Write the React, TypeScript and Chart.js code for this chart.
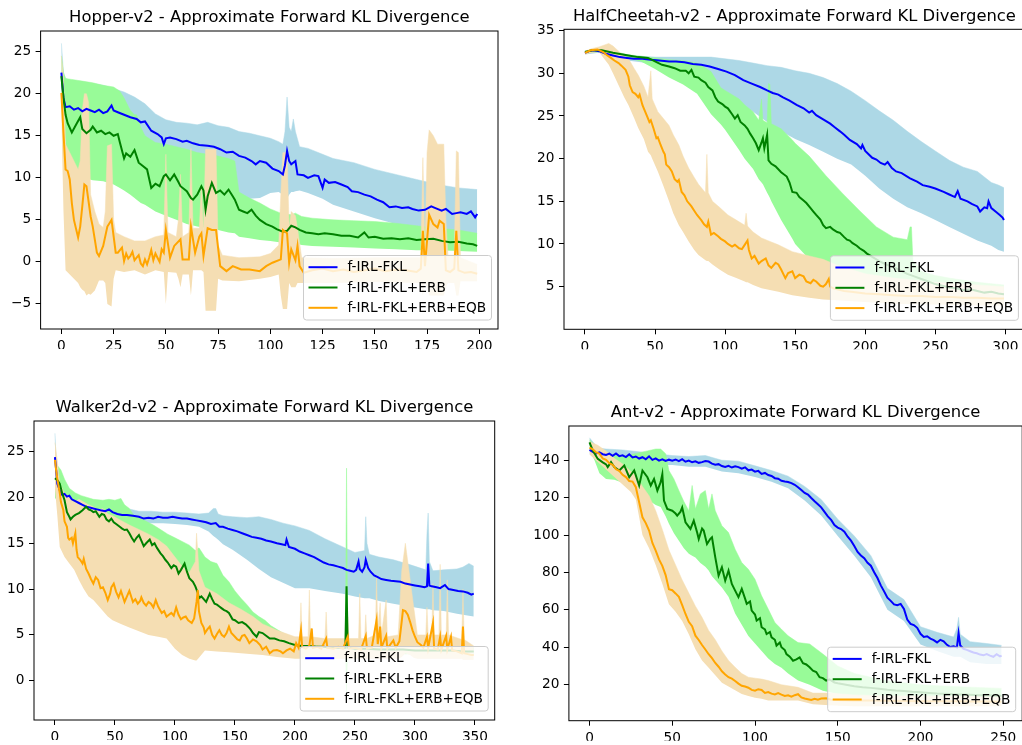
import React, { useEffect, useRef } from 'react';
import { Chart, registerables } from 'chart.js';

Chart.register(...registerables);

const FONT = "'DejaVu Sans', 'Liberation Sans', sans-serif";
const LABELS = ['f-IRL-FKL', 'f-IRL-FKL+ERB', 'f-IRL-FKL+ERB+EQB'];
const LINE_COLORS = ['#0000ff', '#008000', '#ffa500'];
const BAND_COLORS = ['#add8e6', '#98fb98', '#f5deb3'];

// ---------------- Hopper-v2 ----------------
const HOP_X_TICKS = [0, 25, 50, 75, 100, 125, 150, 175, 200];
const HOP_Y_TICKS = [-5, 0, 5, 10, 15, 20, 25];
const HOP_FKL = [[0,22.5],[1,19.5],[2,18.4],[4,18.5],[6,18.1],[8,18.3],[10,17.9],[12,18.2],[14,18.0],[16,17.8],[18,18.1],[20,17.7],[22,17.9],[24,18.6],[25,18.0],[27,17.8],[30,17.5],[33,17.2],[36,17.0],[38,16.6],[40,16.7],[43,15.6],[46,15.2],[48,14.8],[49,14.0],[50,14.7],[52,14.8],[55,14.6],[58,14.3],[60,14.4],[63,14.1],[66,13.9],[70,13.8],[73,13.7],[76,13.4],[79,13.0],[82,13.1],[85,12.6],[88,12.4],[91,12.0],[93,11.6],[95,12.0],[98,11.8],[101,11.1],[104,10.8],[106,10.4],[107,11.5],[108,13.2],[109,12.0],[110,11.6],[112,12.0],[113,10.4],[116,10.3],[118,10.0],[121,10.3],[123,10.2],[125,8.8],[126,9.8],[128,9.4],[131,9.5],[134,9.2],[137,8.9],[139,8.4],[142,8.3],[145,8.0],[148,7.8],[151,7.4],[154,7.1],[157,6.5],[160,6.6],[163,6.4],[166,6.5],[168,6.3],[171,6.1],[174,6.2],[177,6.6],[179,6.4],[182,6.1],[184,6.3],[187,5.7],[189,5.8],[191,5.9],[194,5.7],[196,6.0],[198,5.3],[199,5.7]];
const HOP_FKL_BAND = [[0,19,26],[1,16,22.5],[2,15,21.8],[5,15,21.5],[10,15,21.4],[15,15,21.2],[20,14.5,21.0],[25,14.5,20.6],[30,14,20.2],[35,13.5,19.6],[40,13,18.8],[45,11,17.6],[50,10,16.9],[55,9.5,16.6],[60,9,16.5],[65,8.5,16.3],[70,8,16.6],[75,7.5,16.2],[80,7.5,16.0],[85,7.4,15.5],[90,7.5,15.3],[95,7.6,15.0],[100,8.2,14.7],[104,8.3,14.3],[106,8.0,14.0],[107,7.5,15.5],[108,7.5,19.6],[109,8.0,16.0],[110,8.3,15.5],[111,8.3,17.0],[112,8.4,15.5],[114,8.5,13.7],[118,8.2,13.5],[125,7.5,12.8],[130,6.8,12.3],[140,6.0,11.8],[150,5.2,11.0],[160,4.5,10.4],[170,4.0,9.8],[180,3.6,9.2],[190,3.3,8.8],[199,3.0,8.6]];
const HOP_ERB = [[0,22.1],[1,19.5],[2,17.5],[3,16.5],[5,15.4],[7,16.3],[9,17.2],[10,15.8],[12,15.3],[14,15.7],[15,16.1],[17,15.4],[19,15.6],[21,15.2],[23,15.4],[25,15.0],[27,15.2],[28,14.2],[30,12.3],[31,12.9],[33,12.5],[35,13.3],[37,11.8],[39,11.4],[41,11.0],[43,8.8],[45,9.3],[47,9.0],[49,10.2],[50,10.4],[52,9.7],[54,10.4],[56,9.5],[57,9.0],[60,8.4],[62,7.6],[63,7.4],[65,8.0],[67,9.0],[68,8.5],[69,6.2],[70,7.8],[72,9.4],[74,8.2],[76,8.5],[78,8.0],[80,8.6],[82,7.8],[83,7.4],[85,6.2],[87,6.0],[89,5.8],[91,6.2],[93,5.5],[95,5.0],[98,4.5],[101,4.2],[103,3.9],[106,3.6],[108,3.7],[110,4.3],[112,4.1],[114,3.8],[117,3.5],[120,3.4],[123,3.3],[126,3.4],[130,3.3],[134,3.1],[138,3.1],[142,2.9],[145,3.5],[147,2.9],[150,3.0],[154,2.75],[158,2.8],[162,2.7],[166,2.8],[170,2.6],[174,2.7],[178,2.75],[182,2.5],[186,2.35],[190,2.4],[194,2.2],[197,2.1],[199,1.9]];
const HOP_ERB_BAND = [[0,19,24.5],[1,17,22.5],[2,14,21.8],[5,11,21.7],[10,10,21.5],[15,9.7,21.3],[20,9.6,21.0],[25,9.2,20.8],[28,8.8,20.3],[30,8.5,19.5],[33,8.0,18.0],[35,7.6,17.5],[36,7.4,17.5],[38,7.0,16.0],[40,6.8,15.0],[45,6.0,14.2],[50,5.5,14.0],[55,5.0,13.7],[60,4.5,13.4],[65,4.2,13.0],[70,4.0,12.8],[75,3.8,12.6],[80,3.5,12.3],[83,3.4,12.0],[85,3.0,8.3],[90,2.8,7.6],[95,2.6,7.0],[100,2.5,6.3],[105,2.3,5.8],[110,2.2,5.6],[112,2.2,5.8],[115,2.0,5.4],[120,1.9,5.2],[130,1.8,5.0],[140,1.7,4.9],[150,1.6,4.8],[160,1.5,4.6],[170,1.4,4.3],[180,1.4,4.0],[190,1.3,3.8],[199,1.2,3.4]];
const HOP_EQB = [[0,20.1],[1,15.3],[2,11.0],[3,10.8],[4,9.8],[5,7.0],[6,5.0],[8,2.9],[9,4.2],[10,6.6],[11,9.2],[12,9.0],[14,5.4],[15,4.2],[17,1.1],[18,0.7],[20,1.9],[22,4.2],[23,4.6],[24,5.0],[26,1.1],[27,1.1],[29,1.7],[30,0.1],[31,1.0],[32,0.4],[33,0.7],[34,1.2],[35,0.2],[36,0.5],[37,0.8],[38,-0.2],[39,-0.5],[40,0.3],[41,-0.3],[42,0.5],[43,1.4],[44,0.2],[45,1.0],[46,0.5],[47,0.0],[48,1.5],[49,1.1],[50,3.8],[52,0.5],[54,1.9],[57,2.7],[58,0.3],[61,0.3],[62,4.2],[64,1.1],[66,3.0],[67,3.4],[68,0.7],[70,4.0],[72,3.8],[74,3.8],[76,-0.5],[79,-1.1],[82,-0.5],[86,-0.9],[90,-0.9],[95,-1.1],[98,-0.5],[101,-0.1],[105,0.3],[106,3.8],[108,3.4],[109,-0.1],[110,1.5],[112,0.2],[113,1.9],[114,-0.5],[116,-1.3],[120,-1.0],[125,-0.8],[130,-1.1],[135,-0.9],[140,-1.2],[145,-1.0],[150,-0.8],[155,-1.1],[160,-0.9],[165,-1.0],[170,-1.2],[172,-0.8],[173,3.7],[174,-0.5],[176,5.6],[178,4.5],[180,4.1],[181,4.9],[183,4.5],[184,-1.0],[186,-1.2],[188,-0.8],[189,3.7],[190,-1.0],[193,-1.3],[196,-1.2],[199,-1.4]];
const HOP_EQB_BAND = [[0,17,24.5],[1,6,22],[2,-1,14],[4,-1.5,13],[6,-2,12],[8,-2.5,11],[9,-3,12],[10,-3.3,18],[11,-3.5,20],[12,-4,20],[13,-3.8,19],[14,-3.9,8],[16,-3.4,6],[18,-2.2,4.5],[20,-2.2,4.1],[21,-2.5,6],[22,-5,13.8],[24,-5.3,14],[25,-2,5],[26,-1,3.5],[30,-1.2,3],[35,-1,2.5],[40,-1.5,2.5],[45,-1,3],[49,-1.2,3.2],[50,-5,12.8],[51,-1.2,3.5],[55,-1.3,3],[56,-2,5],[57,-3,10.4],[58,-1.5,3],[61,-1.5,3.5],[62,-4,13.5],[63,-1,4],[66,-1,4],[67,-1,9],[68,-1.2,3.5],[69,-5.8,13.4],[74,-5.8,13.4],[75,-2,2],[77,-2.2,0.8],[85,-2.3,0.5],[95,-2,0.6],[100,-1.8,1],[104,-1.5,2],[105,-4,8],[106,-5.6,13],[108,-5.6,13],[109,-2.5,4],[110,-3,6],[112,-3,5.5],[113,-2.5,4],[115,-2.5,0.5],[130,-2.5,0.4],[150,-2.4,0.5],[172,-2.5,0.5],[173,-4,12.4],[174,-2.5,1],[175,-3,13],[176,-4,15.7],[178,-4,15],[180,-4,14],[183,-4,14],[184,-3,5],[185,-2.5,0.8],[188,-2.5,0.8],[189,-4,13.2],[190,-4,13],[191,-2.3,0.5],[199,-2.3,-0.3]];

// ---------------- HalfCheetah-v2 ----------------
const HC_X_TICKS = [0, 50, 100, 150, 200, 250, 300];
const HC_Y_TICKS = [5, 10, 15, 20, 25, 30, 35];
const HC_FKL = [[0,32.4],[3,32.6],[6,32.7],[10,32.6],[15,32.3],[20,32.1],[25,31.9],[30,31.8],[35,31.7],[41,31.7],[47,31.6],[53,31.5],[60,31.4],[65,31.4],[71,31.3],[77,31.1],[83,31.0],[89,30.8],[95,30.5],[101,30.2],[107,29.8],[113,29.2],[119,28.8],[125,28.4],[130,28.0],[134,27.7],[138,27.5],[141,27.2],[146,26.8],[151,26.3],[156,25.9],[160,25.4],[162,25.6],[165,25.1],[170,24.6],[175,24.1],[178,23.7],[182,23.2],[185,22.8],[189,22.2],[194,21.7],[197,21.2],[198,21.6],[200,20.9],[205,20.1],[208,19.9],[211,19.5],[214,19.3],[216,19.6],[219,18.9],[222,18.5],[226,18.3],[232,17.7],[237,17.3],[241,16.9],[246,16.7],[250,16.5],[256,16.1],[260,15.8],[264,15.5],[266,16.2],[268,15.3],[273,15.0],[276,14.7],[280,14.4],[282,13.8],[285,14.3],[287,14.2],[288,15.0],[290,14.2],[293,13.8],[296,13.4],[298,13.1],[299,12.8]];
const HC_FKL_BAND = [[0,32.2,32.6],[10,32.4,32.8],[20,31.9,32.4],[30,31.5,32.1],[40,31.3,32.0],[50,31.0,31.9],[60,30.7,31.9],[70,30.2,31.9],[80,29.5,31.9],[90,28.5,31.9],[100,27.5,31.7],[110,26.5,31.5],[120,25.5,31.2],[130,24.3,30.9],[140,23.2,30.7],[150,22.3,30.3],[160,21.6,30.0],[170,20.8,29.5],[180,20.0,28.8],[190,19.3,27.9],[200,18.0,26.8],[210,16.5,25.6],[220,15.3,24.5],[230,14.3,23.2],[240,13.6,22.0],[250,12.8,20.9],[260,12.0,19.8],[270,11.2,19.0],[280,10.4,18.5],[290,9.8,17.2],[295,9.3,16.9],[299,9.1,16.6]];
const HC_ERB = [[0,32.5],[5,32.7],[12,32.7],[20,32.4],[31,32.1],[38,31.9],[45,31.8],[50,31.4],[55,31.0],[60,30.8],[64,30.6],[68,30.3],[72,30.3],[74,30.0],[76,30.4],[78,29.6],[81,29.5],[83,29.2],[86,28.9],[88,28.4],[91,28.0],[93,27.2],[95,26.7],[98,26.4],[100,26.1],[102,25.9],[105,25.2],[107,24.7],[109,25.1],[111,24.3],[114,23.9],[116,23.5],[118,22.9],[120,22.4],[122,21.8],[124,21.0],[126,21.9],[127,22.4],[128,21.2],[130,22.8],[131,19.8],[133,19.4],[136,19.1],[140,18.4],[144,17.9],[146,17.2],[148,16.1],[151,16.0],[153,15.5],[156,15.1],[158,14.8],[161,14.2],[163,13.8],[165,13.4],[168,12.85],[170,12.2],[172,11.85],[175,12.0],[177,11.7],[180,11.4],[182,11.3],[185,10.8],[187,10.5],[189,10.4],[191,10.1],[194,9.8],[196,9.5],[199,9.2],[201,8.9],[205,8.5],[210,8.0],[215,7.6],[220,7.3],[225,6.9],[230,6.5],[235,6.2],[240,5.9],[245,5.6],[250,5.3],[255,5.1],[260,4.9],[265,4.8],[270,4.6],[275,4.7],[280,4.5],[285,4.3],[290,4.4],[295,4.2],[299,4.1]];
const HC_ERB_BAND = [[0,32.3,32.6],[10,32.5,32.8],[20,32.2,32.6],[30,31.8,32.2],[40,31.4,32.0],[50,30.5,31.8],[60,29.5,31.6],[70,28.7,31.5],[80,27.6,31.2],[90,25.2,30.2],[97,24.0,28.3],[100,23.4,28.0],[110,21.0,27.0],[114,20.0,26.3],[120,18.8,25.5],[124,17.6,24.5],[126,17.2,27.0],[127,17.0,24.5],[130,16.0,24.2],[131,15.7,28.8],[132,15.4,28.7],[133,15.0,24.1],[140,12.8,23.5],[148,10.6,22.2],[150,10.0,21.8],[160,8.2,20.3],[172,7.1,18.0],[184,6.4,15.9],[196,5.8,13.9],[208,5.2,12.0],[220,4.5,10.8],[230,4.1,10.5],[232,4.0,12.0],[233,4.0,12.0],[234,4.0,8.0],[240,3.8,6.8],[250,3.5,6.3],[260,3.4,6.0],[280,3.3,5.5],[299,3.3,5.2]];
const HC_EQB = [[0,32.4],[4,32.7],[9,32.8],[13,32.5],[16,32.1],[19,31.75],[21,31.5],[24,31.2],[26,30.9],[29,30.4],[31,29.6],[32,28.6],[34,27.8],[36,27.6],[38,27.2],[39,27.5],[41,26.3],[42,25.9],[44,25.1],[46,24.3],[47,24.5],[49,23.5],[51,22.4],[52,22.5],[54,21.6],[56,20.8],[57,20.5],[58,19.3],[60,19.0],[62,18.5],[64,17.6],[66,17.3],[67,17.5],[69,16.1],[71,15.7],[73,15.0],[75,14.6],[76,14.4],[78,13.9],[80,13.4],[82,13.0],[83,12.8],[85,12.3],[87,12.0],[88,12.6],[90,11.1],[92,11.3],[95,10.9],[97,10.6],[100,10.3],[102,10.0],[105,9.7],[107,9.9],[110,9.5],[112,9.4],[114,9.9],[116,10.4],[117,9.3],[119,8.3],[121,8.6],[124,7.7],[126,8.0],[129,8.3],[131,7.5],[133,7.2],[136,7.8],[138,7.6],[140,7.0],[143,6.0],[145,6.6],[148,6.8],[150,6.0],[153,6.4],[156,6.2],[158,5.6],[161,5.4],[163,5.8],[165,5.6],[168,5.1],[170,5.0],[172,5.3],[174,5.9],[175,5.0],[177,4.8],[180,4.7],[185,4.5],[190,4.4],[200,4.2],[210,4.1],[220,4.0],[230,3.9],[240,3.9],[250,3.8],[260,3.8],[270,3.7],[280,3.7],[290,3.6],[299,3.6]];
const HC_EQB_BAND = [[0,32.2,32.6],[5,32.4,32.9],[10,32.5,33.1],[17,31.0,33.5],[20,30.0,33.2],[24,28.6,32.6],[28,27.2,32.0],[31,26.3,31.75],[35,24.8,30.6],[38,23.6,29.8],[42,22.3,28.5],[45,20.8,27.2],[47,20.4,30.3],[48,20.0,27.0],[52,18.5,25.5],[56,16.8,24.7],[60,15.0,23.9],[63,13.6,22.8],[67,12.2,21.6],[70,11.4,20.3],[74,10.3,18.9],[78,9.3,17.8],[81,8.7,17.0],[86,8.1,16.0],[87,8.0,20.5],[88,8.0,16.0],[91,7.6,15.0],[96,7.0,14.3],[102,6.4,13.4],[108,6.0,12.8],[114,5.6,12.2],[115,5.5,13.6],[116,5.5,12.1],[120,5.2,11.4],[126,4.8,10.7],[132,4.6,10.3],[138,4.4,9.9],[148,4.0,9.1],[160,3.7,8.6],[170,3.5,8.2],[180,3.4,7.5],[200,3.2,6.5],[220,3.0,6.0],[250,2.9,5.5],[280,2.8,5.2],[299,2.8,5.0]];

// ---------------- Walker2d-v2 ----------------
const WK_X_TICKS = [0, 50, 100, 150, 200, 250, 300, 350];
const WK_Y_TICKS = [0, 5, 10, 15, 20, 25];
const WK_FKL = [[0,24.4],[1,23.0],[2,21.5],[4,20.8],[6,20.3],[8,20.4],[10,20.1],[12,20.2],[14,19.8],[17,19.6],[20,19.4],[23,19.2],[26,19.0],[29,18.9],[32,18.8],[35,18.7],[38,18.6],[42,18.5],[45,18.7],[48,18.4],[52,18.2],[56,18.1],[60,18.1],[65,18.0],[70,17.9],[74,17.7],[78,17.8],[82,17.7],[86,17.9],[90,17.8],[94,17.8],[98,17.9],[102,17.8],[106,17.7],[110,17.7],[114,17.6],[118,17.5],[122,17.4],[126,17.3],[130,17.1],[134,17.2],[137,16.8],[140,16.8],[144,16.6],[148,16.45],[152,16.3],[156,16.1],[160,15.9],[164,15.7],[168,15.6],[172,15.5],[176,15.3],[180,15.2],[185,15.0],[189,14.9],[192,14.8],[193,15.4],[195,14.6],[200,14.4],[204,14.1],[208,13.9],[212,13.7],[216,13.5],[220,13.2],[224,12.9],[228,12.7],[232,12.6],[236,12.45],[240,12.3],[243,12.1],[246,12.0],[249,11.9],[251,12.1],[253,13.0],[254,12.2],[256,11.9],[258,12.4],[259,13.2],[261,12.3],[263,11.9],[266,11.5],[269,11.3],[272,11.1],[276,11.0],[280,10.9],[284,10.85],[288,10.8],[292,10.6],[296,10.5],[300,10.4],[304,10.3],[308,10.2],[310,10.3],[311,12.8],[312,10.4],[314,10.3],[318,10.2],[321,10.1],[325,10.45],[328,10.0],[332,9.9],[336,9.8],[340,9.75],[344,9.6],[347,9.4],[349,9.5]];
const WK_FKL_BAND = [[0,22,27],[1,21,24],[3,19.5,22],[6,19.3,21.3],[10,19.0,21],[15,18.7,20.4],[20,18.5,20.0],[30,18.1,19.6],[40,17.9,19.3],[50,17.6,19.0],[60,17.5,18.8],[70,17.3,18.5],[80,17.2,18.5],[90,17.2,18.4],[100,17.1,18.4],[110,17.0,18.3],[120,16.8,18.2],[128,16.3,18.3],[132,15.8,18.8],[134,15.6,18.8],[136,15.4,18.2],[140,14.9,18.0],[148,14.3,17.9],[160,13.2,17.8],[170,12.2,17.9],[180,11.3,17.6],[190,10.7,17.2],[200,10.1,16.9],[212,10.1,16.4],[225,9.8,15.5],[240,9.5,14.6],[250,9.2,14.0],[258,9.0,14.2],[259,9.0,17.9],[260,9.0,15.0],[262,9.0,13.8],[270,8.7,13.5],[282,8.4,13.2],[295,8.1,12.7],[309,7.8,12.1],[310,7.8,16],[311,7.8,18.3],[312,7.8,13],[315,7.7,12.0],[324,7.6,12.1],[335,7.3,12.2],[340,7.2,12.4],[345,7.1,12.8],[349,7.0,12.5]];
const WK_ERB = [[0,22.1],[2,21.9],[4,21.5],[6,20.5],[8,19.7],[10,18.4],[12,17.9],[13,17.6],[15,17.9],[17,18.1],[20,18.3],[23,18.6],[26,19.0],[28,18.7],[30,18.6],[32,18.4],[34,18.5],[37,17.9],[39,18.2],[41,18.1],[43,17.6],[45,17.4],[47,17.7],[49,17.3],[51,17.1],[54,16.8],[56,16.6],[58,16.45],[60,16.5],[62,16.1],[64,15.6],[66,15.2],[68,15.6],[70,15.9],[72,15.3],[74,14.7],[76,15.0],[79,15.4],[81,14.8],[83,15.0],[85,14.5],[88,13.9],[90,13.6],[92,13.2],[94,12.9],[97,12.3],[99,12.6],[101,12.45],[103,11.7],[105,12.1],[108,12.8],[110,11.9],[112,11.2],[115,10.8],[117,10.3],[119,9.6],[120,9.0],[122,9.2],[124,8.9],[126,8.6],[129,9.5],[131,8.9],[133,8.4],[135,8.3],[137,8.1],[139,7.9],[141,7.7],[143,7.6],[145,7.4],[148,6.7],[150,6.6],[153,6.3],[156,6.4],[159,6.15],[161,5.9],[163,5.6],[165,5.2],[168,4.8],[170,5.3],[173,5.2],[176,4.9],[179,4.6],[183,4.6],[187,4.4],[191,4.3],[195,4.1],[200,3.9],[206,3.8],[212,3.8],[218,3.7],[224,3.7],[230,3.6],[236,3.6],[242,3.6],[243,10.3],[244,3.6],[250,3.5],[260,3.5],[270,3.4],[280,3.4],[290,3.4],[300,3.3],[310,3.3],[320,3.3],[330,3.3],[340,3.2],[349,3.2]];
const WK_ERB_BAND = [[0,20,24],[2,19.5,23.5],[5,18,23],[8,16.5,22],[12,15.5,21],[17,15.7,20.5],[22,16,20.2],[27,16,20.0],[32,15.5,19.8],[40,15,19.7],[45,14.8,19.8],[50,14.5,19.7],[55,14,19.9],[58,13.5,19.2],[62,13,18.8],[66,12.5,18.0],[70,12,17.8],[76,11.5,17.4],[82,11,17.0],[88,10.3,16.5],[94,9.5,16.0],[100,9,15.6],[106,8.5,15.2],[112,7.8,14.8],[117,7.2,14.2],[120,7,14.5],[125,6.5,13.5],[130,6,13],[135,5.5,12.8],[140,5.2,11.5],[145,5,10.8],[150,4.8,9.8],[155,4.6,9],[160,4.4,8.3],[165,4.2,7.5],[170,4.0,7.0],[175,3.8,6.6],[180,3.6,6.0],[190,3.4,5.2],[200,3.2,4.6],[215,3.1,4.4],[230,3.0,4.2],[242,3.0,4.1],[243,-2.5,23.2],[244,3.0,4.1],[260,3.0,4.0],[280,2.9,3.9],[300,2.9,3.8],[320,2.8,3.7],[349,2.8,3.6]];
const WK_EQB = [[0,24.1],[1,23.0],[2,22.0],[4,20.5],[5,19.5],[7,18.6],[8,17.4],[10,16.8],[11,15.6],[12,15.4],[14,15.6],[15,15.0],[17,16.1],[18,14.3],[19,13.5],[21,13.2],[23,12.8],[24,13.3],[26,12.2],[28,11.7],[30,11.1],[32,10.6],[34,11.3],[36,11.0],[38,10.1],[40,10.2],[42,9.6],[44,8.8],[46,9.5],[47,10.2],[49,10.6],[51,9.7],[53,9.1],[55,9.8],[57,9.0],[58,8.6],[60,9.2],[62,9.8],[64,9.0],[65,8.6],[67,8.9],[69,8.4],[71,8.7],[72,9.1],[74,8.5],[76,8.2],[78,8.6],[80,8.4],[82,8.0],[84,8.8],[86,8.1],[89,7.4],[91,7.6],[93,7.0],[95,7.2],[97,7.4],[99,7.1],[101,8.0],[103,7.2],[105,6.7],[107,6.9],[109,7.0],[111,6.6],[114,6.3],[116,6.8],[118,8.6],[119,9.9],[120,7.6],[122,6.3],[124,5.8],[125,5.2],[127,5.6],[129,5.9],[131,5.0],[133,4.6],[135,5.1],[137,5.5],[139,5.0],[141,4.8],[143,5.2],[145,5.9],[147,5.2],[150,4.8],[152,4.5],[154,4.4],[156,4.9],[158,5.0],[160,4.6],[162,4.1],[165,4.5],[168,4.3],[171,3.9],[173,3.4],[176,3.7],[179,3.0],[182,3.3],[185,3.35],[188,3.2],[190,3.0],[193,3.3],[196,3.5],[199,3.2],[201,4.1],[203,3.6],[205,5.5],[206,3.7],[209,3.5],[212,3.8],[214,5.7],[215,3.6],[219,3.7],[222,3.5],[226,4.6],[227,3.6],[232,3.5],[236,3.7],[240,3.5],[244,4.8],[245,3.5],[250,3.6],[255,3.4],[259,4.9],[260,3.5],[264,3.6],[268,6.6],[269,4.0],[271,5.9],[272,3.6],[276,4.9],[277,3.5],[282,4.4],[284,3.6],[287,4.3],[289,6.5],[290,7.7],[292,7.6],[294,7.2],[296,6.4],[298,5.5],[300,4.8],[302,4.2],[305,3.9],[307,3.6],[310,4.8],[311,3.6],[315,6.3],[316,3.5],[319,3.4],[321,4.8],[322,3.4],[326,4.9],[327,3.4],[330,4.8],[331,3.3],[335,3.2],[339,3.0],[340,5.9],[341,3.0],[344,2.9],[347,2.8],[349,2.8]];
const WK_EQB_BAND = [[0,21,26],[2,18,24],[4,14.6,21.5],[8,13.5,20.5],[12,12.8,20],[16,12.1,19.5],[20,11,19.8],[24,10,19.5],[28,9.2,19.2],[32,8.8,19.0],[36,8.2,18.6],[40,7.6,18.8],[44,7.0,18.2],[48,6.6,18.0],[55,6.2,17.5],[62,5.8,17.0],[70,5.4,16.5],[78,5.0,16.0],[86,4.8,15.4],[93,4.6,14.7],[100,3.5,13.5],[106,2.8,12.5],[112,2.4,11.8],[117,2.2,13],[118,2.2,16.1],[120,2.5,12.0],[125,3.3,10.2],[135,3.2,9.5],[145,3.1,8.5],[155,3.0,7.8],[165,2.9,7.0],[173,2.8,6.2],[185,2.6,5.5],[200,2.4,4.8],[204,2.4,4.8],[205,2.4,8.5],[206,2.4,4.8],[211,2.4,4.8],[212,2.4,9.9],[213,2.4,4.8],[225,2.4,4.6],[226,2.4,7.5],[227,2.4,4.6],[243,2.4,4.6],[244,2.4,7.0],[245,2.4,4.6],[253,2.4,4.6],[254,2.4,9.5],[255,2.4,4.6],[258,2.4,4.6],[259,2.4,7.2],[260,2.4,4.6],[267,2.4,5],[268,2.4,11.4],[269,2.4,5.5],[271,2.4,8.5],[272,2.4,5],[276,2.4,8.8],[277,2.4,4.8],[286,2.4,5],[289,2.6,12],[292,3,15],[296,2.8,11],[299,2.5,8],[302,2.4,5],[309,2.4,5],[310,2.4,8],[311,2.4,5],[314,2.4,5],[315,2.4,10.6],[316,2.4,5],[320,2.4,5],[321,2.4,12.7],[322,2.4,5],[326,2.4,5],[327,2.4,11],[328,2.4,5],[339,2.4,4.5],[340,2.3,10],[341,2.3,4.5],[349,2.3,3.8]];

// ---------------- Ant-v2 ----------------
const ANT_X_TICKS = [0, 50, 100, 150, 200, 250];
const ANT_Y_TICKS = [20, 40, 60, 80, 100, 120, 140];
const ANT_FKL = [[0,145.5],[2,144.5],[4,143.6],[6,144.2],[8,143.2],[10,142.8],[12,143.5],[14,142.4],[16,143.6],[18,142.2],[20,142.6],[22,141.7],[24,143.2],[26,141.5],[28,142.0],[30,140.9],[32,141.6],[34,140.5],[36,142.1],[38,140.2],[40,141.0],[42,139.8],[44,140.5],[46,139.6],[48,140.3],[50,139.8],[52,140.4],[54,139.5],[56,140.6],[58,139.2],[60,139.8],[62,138.9],[64,139.4],[66,138.6],[68,139.0],[70,139.6],[72,139.3],[74,138.2],[76,137.6],[78,137.9],[80,136.9],[82,136.4],[84,137.0],[86,136.1],[88,136.8],[90,136.3],[92,135.5],[94,136.2],[96,134.6],[98,135.0],[100,133.9],[102,134.3],[104,132.7],[106,133.2],[108,132.1],[110,131.6],[112,130.4],[114,130.1],[116,129.0],[118,128.6],[120,128.4],[122,127.8],[124,126.9],[126,125.6],[128,124.1],[130,122.5],[132,121.6],[134,119.8],[136,118.1],[138,116.5],[140,114.8],[142,112.4],[144,110.0],[146,108.1],[148,105.3],[150,104.0],[152,103.2],[154,101.8],[156,99.1],[158,97.0],[160,94.2],[162,91.0],[164,89.1],[166,87.6],[168,85.2],[170,83.6],[172,80.1],[174,77.0],[176,73.1],[178,69.9],[180,66.5],[182,64.8],[184,62.9],[186,62.5],[188,63.2],[190,60.5],[192,54.8],[194,52.5],[196,51.9],[198,50.4],[200,47.2],[202,45.5],[204,45.9],[206,44.6],[208,43.8],[210,42.6],[212,44.0],[214,43.2],[216,41.3],[218,40.1],[220,40.5],[222,39.9],[223,47.5],[224,41.0],[226,39.2],[228,38.6],[230,37.9],[232,37.2],[234,36.8],[236,36.1],[238,35.7],[240,36.4],[242,35.5],[244,34.9],[246,36.3],[248,35.1],[249,35.6]];
const ANT_FKL_BAND = [[0,143,152],[5,141,146.5],[10,140.5,146],[20,139.5,145.5],[30,138.5,144.5],[40,137.5,143.5],[50,137.5,142.5],[60,136.5,142],[70,136.5,142.5],[80,134,140],[90,133,139.5],[100,131,137],[110,128.5,134.5],[120,125,131.5],[130,118.5,126],[140,110.5,119],[150,99.5,108.5],[160,89,99.5],[170,77.5,89],[180,60,71.5],[190,54,65.5],[200,41.5,51],[210,38,48],[220,35,45.5],[222,35,50],[223,35,56],[224,35,47],[230,32,43],[240,31,42],[249,31,41]];
const ANT_ERB = [[0,149.6],[2,145.2],[5,140.7],[8,138.9],[10,137.8],[11,136.3],[13,139.0],[15,136.3],[18,134.5],[21,137.2],[24,130.9],[27,134.5],[30,126.5],[32,134.5],[35,130.9],[37,126.5],[39,130],[41,123.8],[43,128.3],[44,132.5],[45,118.4],[47,114.0],[50,113.0],[52,111.5],[53,110.4],[55,112.5],[56,114.8],[58,106.8],[61,103.3],[63,107.7],[65,101.5],[66,97.9],[68,103.5],[69,102.4],[71,95.2],[73,98.0],[74,98.8],[76,88.1],[78,78.3],[80,82.8],[82,75.6],[84,81.0],[86,73.9],[88,70.3],[90,66.8],[92,71.2],[94,66.0],[95,63.2],[97,64.5],[98,59.6],[100,57.5],[101,54.3],[103,55.5],[104,50.7],[106,49.5],[107,47.1],[109,48.2],[110,45.3],[112,44.0],[113,40.9],[115,42.5],[116,40.0],[118,38.5],[119,36.4],[121,35.0],[123,32.8],[125,33.5],[127,34.6],[129,31.5],[131,30.8],[133,29.3],[135,27.5],[137,26.8],[139,24.0],[141,23.5],[143,22.2],[145,22.8],[148,21.2],[150,20.8],[155,20.0],[160,19.2],[165,18.6],[170,18.3],[175,17.8],[180,17.3],[185,16.9],[190,16.6],[195,16.2],[200,15.9],[205,15.6],[210,15.3],[215,15.1],[220,14.9],[225,14.8],[230,14.6],[235,14.4],[240,14.3],[245,14.2],[249,14.1]];
const ANT_ERB_BAND = [[0,146,151],[3,140,148],[6,133,145],[10,130,143],[15,129.5,142.5],[20,128,142],[25,125,143],[30,122,144],[35,119,145],[40,116,146],[43,115,146],[46,110,143.5],[48,106,134.5],[51,101,130],[54,97,123.8],[57,93,118],[60,90,113],[62,89,126.5],[64,88,114],[67,85,122],[70,83,123.8],[72,81,114],[74,78,122],[76,76,113],[80,72,105],[84,67,101.3],[88,58,92.4],[92,52,85.3],[96,46,81.7],[100,42,76.4],[104,38,67.5],[108,34,60.4],[112,31,53.2],[116,29,49.7],[120,26,46.1],[126,22.2,42.5],[133,20,41.8],[141,16.8,36.4],[150,15,30],[160,13.5,26],[170,12.5,24],[180,12,22],[200,11.5,20],[220,11,19],[249,10.5,18]];
const ANT_EQB = [[0,146.8],[2,145.8],[4,144.2],[6,143.5],[8,140.9],[10,140.2],[12,138.4],[14,137.6],[16,135.2],[18,134.3],[20,132.2],[22,131.0],[24,128.9],[26,128.6],[28,125.6],[30,117.5],[32,109.5],[34,106.4],[36,102.4],[38,95.8],[40,91.7],[42,87.0],[44,83.5],[46,78.6],[48,71.0],[50,70.5],[52,68.8],[54,67.0],[56,62.5],[58,57.8],[60,53.6],[62,51.3],[64,46.2],[66,43.9],[68,41.2],[70,38.8],[72,36.3],[74,34.2],[76,31.6],[78,29.6],[80,27.2],[82,25.5],[84,24.0],[86,23.2],[88,22.0],[90,20.6],[92,19.4],[94,19.0],[96,18.4],[98,17.2],[100,16.8],[102,17.6],[104,17.2],[106,15.6],[108,16.1],[110,15.2],[112,14.8],[114,15.5],[116,14.7],[118,14.0],[120,14.3],[122,13.6],[124,14.4],[126,14.9],[128,13.2],[130,12.6],[132,12.2],[134,11.8],[136,12.5],[138,12.0],[140,12.6],[143,12.7],[146,12.0],[150,11.8],[160,11.6],[170,11.5],[180,11.4],[190,11.3],[200,11.2],[210,11.1],[220,11.1],[230,11.0],[240,11.0],[249,10.9]];
const ANT_EQB_BAND = [[0,143,150],[5,139,148],[10,135,145],[15,131,141],[20,127,138],[25,123,134],[28,119,132],[32,100,126],[36,93,121],[40,84,113],[44,74,103],[48,63,92],[52,59,84],[56,54,76],[60,47,69],[64,39,62],[68,33,56],[72,29,49],[76,25,44],[80,21,38],[84,19,33],[88,17,29.3],[92,15,26],[96,14,24],[100,13,23.5],[104,12.5,23],[108,11.5,22.2],[116,11.5,20],[126,11.5,18.6],[135,9.5,15.5],[145,9,15.5],[160,8.5,14.5],[180,8.5,14],[200,8.5,14],[249,8.5,13.5]];

// Layout of the four panels (canvas box and plot area in page pixels)
const X_AXIS_H = 20;
const TITLE_SIZE = 16.4;
const TICK_SIZE = 13.7;
const LEGEND_SIZE = 13.7;
const TITLE_PAD_B = 3.0;
const TITLE_H = TITLE_SIZE * 1.2 + TITLE_PAD_B;

const PANELS: any[] = [
  { title: 'Hopper-v2 - Approximate Forward KL Divergence', box: [0, 0, 511, 372], area: [40.6, 31, 498, 329], yw: 30, xr: [-9.95, 208.95], yr: [-7.98, 27.46], xt: HOP_X_TICKS, yt: HOP_Y_TICKS, lines: [HOP_FKL, HOP_ERB, HOP_EQB], bands: [HOP_FKL_BAND, HOP_ERB_BAND, HOP_EQB_BAND] },
  { title: 'HalfCheetah-v2 - Approximate Forward KL Divergence', box: [511, 0, 560, 372], area: [564, 29.3, 1024.9, 329.3], yw: 34, xr: [-14.95, 313.95], yr: [0.0, 35.16], xt: HC_X_TICKS, yt: HC_Y_TICKS, lines: [HC_FKL, HC_ERB, HC_EQB], bands: [HC_FKL_BAND, HC_ERB_BAND, HC_EQB_BAND] },
  { title: 'Walker2d-v2 - Approximate Forward KL Divergence', box: [0, 372, 511, 373], area: [34, 421, 494.7, 720], yw: 30, xr: [-17.45, 366.45], yr: [-4.29, 28.35], xt: WK_X_TICKS, yt: WK_Y_TICKS, lines: [WK_FKL, WK_ERB, WK_EQB], bands: [WK_FKL_BAND, WK_ERB_BAND, WK_EQB_BAND] },
  { title: 'Ant-v2 - Approximate Forward KL Divergence', box: [511, 372, 560, 373], area: [568.9, 426, 1022.2, 720.7], yw: 44, xr: [-12.45, 261.45], yr: [0.75, 158.3], xt: ANT_X_TICKS, yt: ANT_Y_TICKS, lines: [ANT_FKL, ANT_ERB, ANT_EQB], bands: [ANT_FKL_BAND, ANT_ERB_BAND, ANT_EQB_BAND] },
];

const fmtTick = (v: any) => (Number(v) < 0 ? '\u2212' + Math.abs(Number(v)) : String(v));

const mplDecor = {
  id: 'mplDecor',
  afterDraw(chart: any) {
    const { ctx, chartArea: a } = chart;
    ctx.save();
    ctx.strokeStyle = '#000';
    ctx.lineWidth = 1;
    ctx.strokeRect(a.left, a.top, a.right - a.left, a.bottom - a.top);
    const W = 188, H = 64.5;
    const x0 = a.right - 6.5 - W;
    const y0 = a.bottom - 9 - H;
    ctx.beginPath();
    if (ctx.roundRect) ctx.roundRect(x0, y0, W, H, 3);
    else ctx.rect(x0, y0, W, H);
    ctx.fillStyle = 'rgba(255,255,255,0.8)';
    ctx.fill();
    ctx.strokeStyle = '#cccccc';
    ctx.lineWidth = 1;
    ctx.stroke();
    LABELS.forEach((lab, i) => {
      const cy = y0 + 11.7 + i * 20.3;
      ctx.beginPath();
      ctx.moveTo(x0 + 5, cy);
      ctx.lineTo(x0 + 34, cy);
      ctx.strokeStyle = LINE_COLORS[i];
      ctx.lineWidth = 2;
      ctx.stroke();
      ctx.fillStyle = '#000';
      ctx.font = `${LEGEND_SIZE}px ${FONT}`;
      ctx.textBaseline = 'middle';
      ctx.textAlign = 'left';
      ctx.fillText(lab, x0 + 44, cy + 0.5);
    });
    ctx.restore();
  },
};

function Panel({ cfg }: { cfg: any }) {
  const ref = useRef<HTMLCanvasElement>(null);
  const [bx, by, bw, bh] = cfg.box;
  useEffect(() => {
    const [al, at, ar, ab] = cfg.area;
    const datasets: any[] = [];
    cfg.bands.forEach((band: number[][], i: number) => {
      datasets.push({
        data: band.map((p) => ({ x: p[0], y: p[1] })),
        borderColor: 'rgba(0,0,0,0)', borderWidth: 0, pointRadius: 0, fill: false, order: 20 - 2 * i,
      });
      datasets.push({
        data: band.map((p) => ({ x: p[0], y: p[2] })),
        borderColor: BAND_COLORS[i], borderWidth: 0.5, backgroundColor: BAND_COLORS[i],
        pointRadius: 0, fill: '-1', order: 19 - 2 * i,
      });
    });
    cfg.lines.forEach((line: number[][], i: number) => {
      datasets.push({
        label: LABELS[i],
        data: line.map((p) => ({ x: p[0], y: p[1] })),
        borderColor: LINE_COLORS[i], borderWidth: 2, pointRadius: 0, fill: false, order: 3 - i,
      });
    });
    const axisCommon = {
      type: 'linear',
      grid: { display: true, drawOnChartArea: false, drawTicks: true, tickLength: 5, tickWidth: 1, tickColor: '#000', color: '#000' },
      border: { display: false },
    };
    const chart = new Chart(ref.current as HTMLCanvasElement, {
      type: 'line',
      data: { datasets },
      options: {
        responsive: false,
        animation: false,
        devicePixelRatio: 1,
        events: [],
        layout: {
          padding: {
            left: al - bx - cfg.yw,
            top: at - by - TITLE_H,
            right: bx + bw - ar,
            bottom: by + bh - ab - X_AXIS_H,
          },
        },
        elements: { line: { tension: 0 }, point: { radius: 0 } },
        plugins: {
          legend: { display: false },
          tooltip: { enabled: false },
          title: {
            display: true, text: cfg.title, fullSize: false, color: '#000',
            font: { family: FONT, size: TITLE_SIZE, weight: 'normal', lineHeight: 1.2 },
            padding: { top: 0, bottom: TITLE_PAD_B },
          },
        },
        scales: {
          x: {
            ...axisCommon,
            min: cfg.xr[0], max: cfg.xr[1],
            afterBuildTicks: (s: any) => { s.ticks = cfg.xt.map((v: number) => ({ value: v })); },
            afterFit: (s: any) => { s.height = X_AXIS_H; },
            ticks: { color: '#000', font: { family: FONT, size: TICK_SIZE }, padding: 4.5, maxRotation: 0, autoSkip: false, callback: fmtTick },
          },
          y: {
            ...axisCommon,
            min: cfg.yr[0], max: cfg.yr[1],
            afterBuildTicks: (s: any) => { s.ticks = cfg.yt.map((v: number) => ({ value: v })); },
            afterFit: (s: any) => { s.width = cfg.yw; },
            ticks: { color: '#000', font: { family: FONT, size: TICK_SIZE }, padding: 4.5, autoSkip: false, callback: fmtTick },
          },
        },
      } as any,
      plugins: [mplDecor],
    });
    return () => chart.destroy();
  }, []);
  return (
    <canvas
      ref={ref}
      width={bw}
      height={bh}
      style={{ position: 'absolute', left: bx, top: by, width: bw, height: bh, display: 'block' }}
    />
  );
}

export default function App() {
  return (
    <div style={{ position: 'fixed', left: 0, top: 0, width: 1022, height: 745, overflow: 'hidden', background: '#fff' }}>
      {PANELS.map((p, i) => (
        <Panel key={i} cfg={p} />
      ))}
    </div>
  );
}
